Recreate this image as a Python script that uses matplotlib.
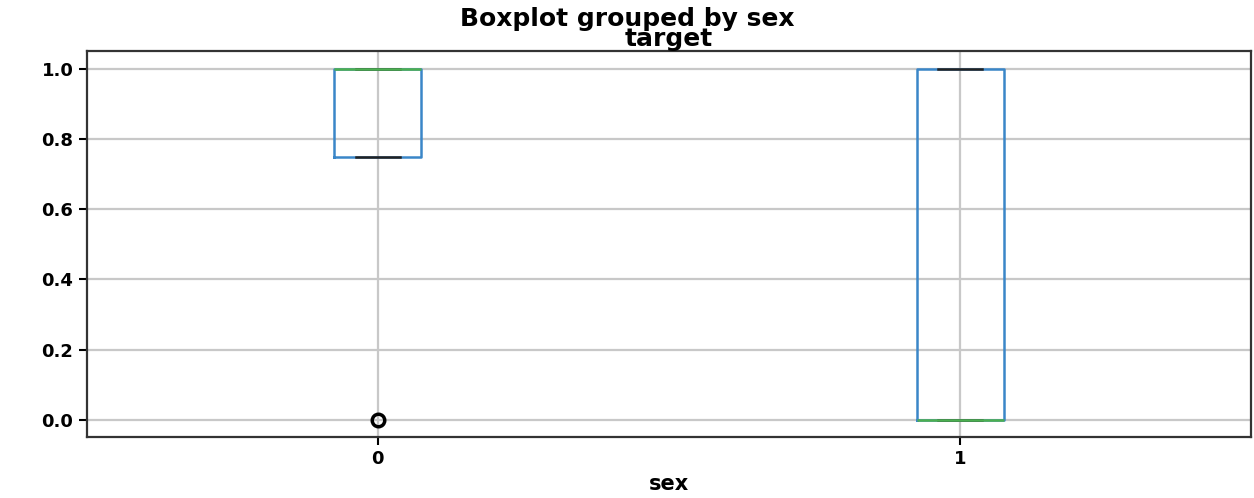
import matplotlib
matplotlib.use("Agg")
import matplotlib.pyplot as plt

# Box statistics of "target" for each sex group
groups = ["0", "1"]
q1 = [0.75, 0.0]
medians = [1.0, 0.0]
q3 = [1.0, 1.0]
whisker_low = [0.75, 0.0]
whisker_high = [1.0, 1.0]
outliers = [[0.0], []]

stats = [
    dict(label=g, q1=a, med=m, q3=b, whislo=lo, whishi=hi, fliers=f)
    for g, a, m, b, lo, hi, f in zip(groups, q1, medians, q3, whisker_low, whisker_high, outliers)
]

plt.rcParams["font.weight"] = "bold"
fig = plt.figure(figsize=(12.54, 4.98), dpi=100)
ax = fig.add_axes([0.069, 0.122, 0.929, 0.775])

ax.bxp(
    stats,
    widths=0.15,
    boxprops=dict(color="#3a86c8", linewidth=1.8),
    whiskerprops=dict(color="#3a86c8", linewidth=1.8),
    medianprops=dict(color="#4caf50", linewidth=1.8),
    capprops=dict(color="#222222", linewidth=1.8),
    flierprops=dict(marker="o", markerfacecolor="none", markeredgecolor="black",
                    markersize=9, markeredgewidth=2.5),
)

ax.set_xlim(0.5, 2.5)
ax.set_ylim(-0.05, 1.05)
ax.set_yticks([0.0, 0.2, 0.4, 0.6, 0.8, 1.0])
ax.set_yticklabels(["0.0", "0.2", "0.4", "0.6", "0.8", "1.0"])
ax.grid(True, color="#c8c8c8", linewidth=1.6)
ax.set_axisbelow(True)
ax.tick_params(labelsize=13, width=1.5, length=6)
for s in ax.spines.values():
    s.set_linewidth(1.6)
    s.set_color("#333333")

ax.set_xlabel("sex", fontsize=15, fontweight="bold", labelpad=4)
ax.set_title("target", fontsize=18, fontweight="bold", pad=3)
fig.suptitle("Boxplot grouped by sex", fontsize=18, fontweight="bold", y=0.985)

fig.savefig("out.png", dpi=100)
